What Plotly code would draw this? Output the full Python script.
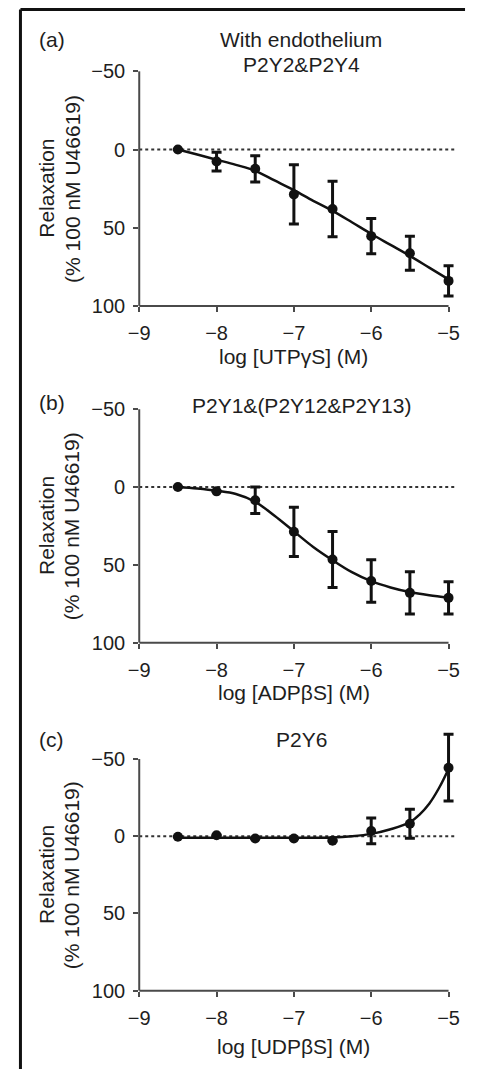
import plotly.graph_objects as go

# ---------------- data ----------------
log_conc = [-8.5, -8.0, -7.5, -7.0, -6.5, -6.0, -5.5, -5.0]

# (a) UTPgammaS, with endothelium
a_mean = [0.0, 7.7, 12.3, 28.7, 38.0, 55.4, 66.3, 84.0]
a_err = [0.0, 6.0, 8.4, 19.0, 17.7, 11.3, 10.9, 9.6]
a_fit_x = [-8.5, -8.25, -8.0, -7.75, -7.5, -7.25, -7.0, -6.75, -6.5, -6.25, -6.0, -5.75, -5.5, -5.25, -5.0]
a_fit_y = [0.0, 3.2, 6.5, 9.8, 13.6, 19.8, 26.0, 32.8, 39.2, 46.5, 54.0, 61.0, 68.0, 75.5, 83.0]

# (b) ADPbetaS
b_mean = [0.0, 2.8, 8.5, 28.8, 46.6, 60.4, 68.0, 71.2]
b_err = [0.0, 0.0, 8.5, 15.8, 18.0, 13.7, 13.5, 10.3]
b_fit_x = [-8.5, -8.25, -8.0, -7.75, -7.5, -7.25, -7.0, -6.75, -6.5, -6.25, -6.0, -5.75, -5.5, -5.25, -5.0]
b_fit_y = [0.0, 1.0, 2.4, 4.5, 9.5, 18.5, 28.5, 38.5, 47.0, 54.7, 60.5, 64.5, 67.5, 69.5, 71.0]

# (c) UDPbetaS
c_mean = [0.4, -0.6, 1.5, 1.5, 3.0, -3.4, -8.1, -44.3]
c_err = [0.0, 0.0, 0.0, 0.0, 0.0, 8.3, 9.4, 21.6]
c_fit_x = [-8.5, -8.0, -7.5, -7.0, -6.5, -6.25, -6.0, -5.75, -5.5, -5.375, -5.25, -5.125, -5.0]
c_fit_y = [1.0, 1.0, 1.0, 1.0, 0.8, 0.0, -1.5, -4.5, -9.0, -14.0, -21.0, -31.0, -43.5]

panels = [
    dict(mean=a_mean, err=a_err, fx=a_fit_x, fy=a_fit_y, label="(a)",
         title=["With endothelium", "P2Y2&P2Y4"], xtitle="log [UTPγS] (M)"),
    dict(mean=b_mean, err=b_err, fx=b_fit_x, fy=b_fit_y, label="(b)",
         title=["P2Y1&(P2Y12&P2Y13)"], xtitle="log [ADPβS] (M)"),
    dict(mean=c_mean, err=c_err, fx=c_fit_x, fy=c_fit_y, label="(c)",
         title=["P2Y6"], xtitle="log [UDPβS] (M)"),
]

x_ticks = [-9, -8, -7, -6, -5]
y_ticks = [-50, 0, 50, 100]
x_axis_span = [-9, -5]
y_axis_span = [100, -50]
y_title_lines = ["Relaxation", "(% 100 nM U46619)"]

# ---------------- layout geometry ----------------
WIN_W, WIN_H = 477, 1085
OFF = 8  # page body margin
W, H = WIN_W - 2 * OFF, WIN_H - 2 * OFF
FONT = "Arial, 'Liberation Sans', Helvetica, sans-serif"
FS_TICK = 20
FS = 21
TXT = "#1e1e1e"
INK = "#111111"
AXC = "#4a4a4a"

def pxx(px):
    return (px - OFF) / W

def pyy(px):
    return 1 - (px - OFF) / H

# pixel positions in the page of x=-9 / x=-5 and y=-50 / y=100
X_L, X_R = 132, 451
panel_px = [(72, 309), (413.3, 649.3), (766.7, 1001)]
title_px = [[40, 65], [410], [747]]
label_px = [40, 407, 747]
xtitle_px = [360, 700, 1057]

# extended data ranges (so nothing at the axis ends is clipped)
XR = [-9, -4.9]
YR = [100, -72]
ppx = (X_R - X_L) / (x_axis_span[1] - x_axis_span[0])
x_dom = [pxx(X_L), pxx(X_L + (XR[1] - XR[0]) * ppx)]

fig = go.Figure()
annotations = []
shapes = []

for i, p in enumerate(panels):
    n = "" if i == 0 else str(i + 1)
    xa, ya = "x" + n, "y" + n
    top, bot = panel_px[i]
    ppy = (bot - top) / 150.0
    dom_top = top - (y_axis_span[1] - YR[1]) * ppy

    fig.add_trace(go.Scatter(
        x=p["fx"], y=p["fy"], mode="lines",
        line=dict(color=INK, width=2.5, shape="spline", smoothing=1.0),
        xaxis=xa, yaxis=ya, showlegend=False, hoverinfo="skip"))
    fig.add_trace(go.Scatter(
        x=log_conc, y=p["mean"], mode="markers",
        marker=dict(color=INK, size=10),
        error_y=dict(type="data", array=p["err"], visible=True, color=INK, thickness=3, width=5),
        xaxis=xa, yaxis=ya, showlegend=False))

    axis_common = dict(showline=False, ticks="outside",
                       ticklen=5, tickwidth=2, tickcolor=AXC, showgrid=False, zeroline=False,
                       tickfont=dict(family=FONT, size=FS_TICK, color=TXT), ticklabelstandoff=4)
    fig.update_layout(**{
        ("xaxis" + n): dict(domain=x_dom, anchor=ya, range=XR, tickvals=x_ticks,
                            ticktext=["−" + str(abs(v)) for v in x_ticks], **axis_common),
        ("yaxis" + n): dict(domain=[pyy(bot), pyy(dom_top)], anchor=xa, range=YR, tickvals=y_ticks,
                            ticktext=[("−" + str(abs(v))) if v < 0 else str(v) for v in y_ticks],
                            **axis_common),
    })

    # axis lines spanning only -9..-5 and 100..-50
    shapes.append(dict(type="line", xref=xa, yref=ya + " domain", x0=x_axis_span[0], x1=x_axis_span[1],
                       y0=0, y1=0, line=dict(color=AXC, width=2)))
    shapes.append(dict(type="line", xref=xa + " domain", yref=ya, x0=0, x1=0,
                       y0=y_axis_span[0], y1=y_axis_span[1], line=dict(color=AXC, width=2)))

    # dotted zero line
    shapes.append(dict(type="line", xref=xa, yref=ya, x0=-9, x1=-4.925, y0=0, y1=0,
                       line=dict(color="#333333", width=2, dash="dot"), layer="below"))

    annotations.append(dict(text=p["label"], x=pxx(27), y=pyy(label_px[i]), xref="paper", yref="paper",
                            xanchor="left", yanchor="middle", showarrow=False,
                            font=dict(family=FONT, size=FS, color=TXT)))
    for t, ty in zip(p["title"], title_px[i]):
        annotations.append(dict(text=t, x=pxx(299), y=pyy(ty), xref="paper", yref="paper",
                                xanchor="center", yanchor="middle", showarrow=False,
                                font=dict(family=FONT, size=FS, color=TXT)))
    annotations.append(dict(text=p["xtitle"], x=pxx((X_L + X_R) / 2), y=pyy(xtitle_px[i]),
                            xref="paper", yref="paper", xanchor="center", yanchor="middle",
                            showarrow=False, font=dict(family=FONT, size=FS, color=TXT)))
    for t, tx in zip(y_title_lines, [37, 63]):
        annotations.append(dict(text=t, x=pxx(tx), y=pyy((top + bot) / 2), xref="paper", yref="paper",
                                xanchor="center", yanchor="middle", textangle=-90, showarrow=False,
                                font=dict(family=FONT, size=FS, color=TXT)))

# outer frame (left and top edges)
shapes.append(dict(type="line", xref="paper", yref="paper", x0=pxx(9.5), x1=pxx(9.5), y0=pyy(1080), y1=pyy(9.5),
                   line=dict(color="#111111", width=3)))
shapes.append(dict(type="line", xref="paper", yref="paper", x0=pxx(9.5), x1=pxx(468), y0=pyy(9.5), y1=pyy(9.5),
                   line=dict(color="#111111", width=3)))

fig.update_layout(width=W, height=H, margin=dict(l=0, r=0, t=0, b=0),
                  paper_bgcolor="white", plot_bgcolor="white",
                  annotations=annotations, shapes=shapes,
                  font=dict(family=FONT, size=FS, color=TXT))

fig.write_html("out.html")
